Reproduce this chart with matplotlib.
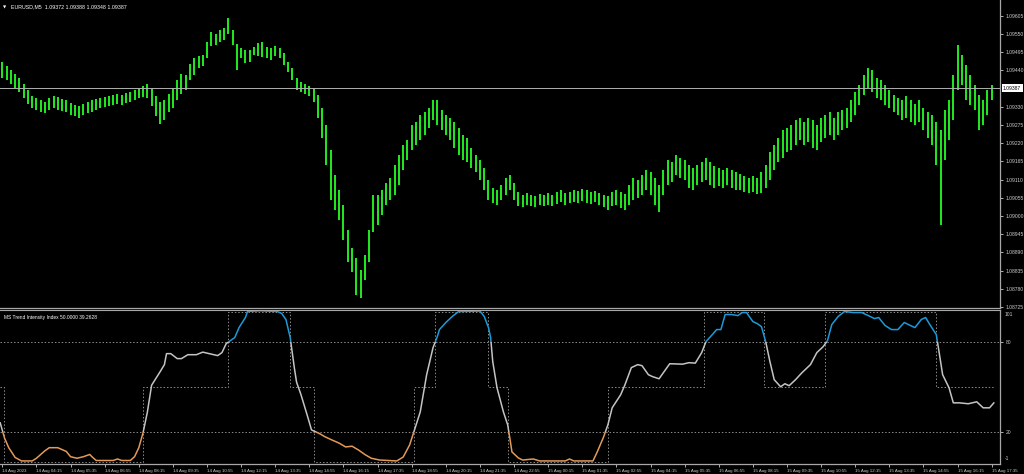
import matplotlib.pyplot as plt
from matplotlib.patches import Rectangle

# ---- data (bar index = 5 minute bars from 14 Aug 02:55, every 2nd bar) ----
bar_index = list(range(0, 465, 2))
highs = [1.09466, 1.09453, 1.09441, 1.09429, 1.09417, 1.09399, 1.09381, 1.09363, 1.09357, 1.09351,
         1.09345, 1.09357, 1.09363, 1.09360, 1.09354, 1.09351, 1.09342, 1.09335, 1.09332, 1.09339,
         1.09345, 1.09351, 1.09354, 1.09357, 1.09360, 1.09363, 1.09366, 1.09369, 1.09366, 1.09372,
         1.09375, 1.09381, 1.09387, 1.09393, 1.09399, 1.09387, 1.09363, 1.09345, 1.09351, 1.09369,
         1.09387, 1.09411, 1.09429, 1.09426, 1.09459, 1.09478, 1.09484, 1.09487, 1.09526, 1.09556,
         1.09550, 1.09562, 1.09568, 1.09599, 1.09562, 1.09520, 1.09508, 1.09502, 1.09502, 1.09511,
         1.09523, 1.09526, 1.09511, 1.09508, 1.09514, 1.09508, 1.09493, 1.09466, 1.09447, 1.09417,
         1.09405, 1.09399, 1.09393, 1.09387, 1.09366, 1.09326, 1.09275, 1.09199, 1.09124, 1.09078,
         1.09033, 1.08957, 1.08903, 1.08873, 1.08837, 1.08882, 1.08957, 1.09063, 1.09063, 1.09078,
         1.09100, 1.09115, 1.09154, 1.09184, 1.09215, 1.09230, 1.09275, 1.09284, 1.09305, 1.09314,
         1.09326, 1.09351, 1.09351, 1.09320, 1.09305, 1.09296, 1.09284, 1.09266, 1.09245, 1.09236,
         1.09205, 1.09184, 1.09169, 1.09145, 1.09109, 1.09084, 1.09078, 1.09094, 1.09115, 1.09124,
         1.09100, 1.09072, 1.09063, 1.09069, 1.09063, 1.09060, 1.09066, 1.09063, 1.09069, 1.09063,
         1.09072, 1.09078, 1.09069, 1.09072, 1.09078, 1.09075, 1.09081, 1.09078, 1.09072, 1.09075,
         1.09069, 1.09063, 1.09060, 1.09072, 1.09078, 1.09072, 1.09066, 1.09094, 1.09115, 1.09109,
         1.09124, 1.09139, 1.09133, 1.09115, 1.09094, 1.09139, 1.09169, 1.09163, 1.09184, 1.09175,
         1.09169, 1.09154, 1.09145, 1.09154, 1.09163, 1.09175, 1.09163, 1.09151, 1.09145, 1.09139,
         1.09145, 1.09139, 1.09133, 1.09127, 1.09121, 1.09115, 1.09121, 1.09115, 1.09133, 1.09154,
         1.09193, 1.09215, 1.09236, 1.09260, 1.09266, 1.09275, 1.09290, 1.09296, 1.09284, 1.09296,
         1.09290, 1.09275, 1.09296, 1.09305, 1.09314, 1.09296, 1.09314, 1.09320, 1.09326, 1.09351,
         1.09375, 1.09396, 1.09426, 1.09447, 1.09441, 1.09417, 1.09411, 1.09396, 1.09381, 1.09366,
         1.09357, 1.09351, 1.09363, 1.09351, 1.09339, 1.09351, 1.09326, 1.09314, 1.09305, 1.09284,
         1.09260, 1.09320, 1.09351, 1.09426, 1.09517, 1.09487, 1.09456, 1.09426, 1.09396, 1.09366,
         1.09351, 1.09381, 1.09396]
lows = [1.09417, 1.09411, 1.09399, 1.09387, 1.09375, 1.09357, 1.09339, 1.09326, 1.09320, 1.09314,
        1.09311, 1.09320, 1.09326, 1.09320, 1.09317, 1.09314, 1.09305, 1.09302, 1.09296, 1.09305,
        1.09311, 1.09314, 1.09320, 1.09326, 1.09329, 1.09332, 1.09335, 1.09339, 1.09335, 1.09342,
        1.09345, 1.09351, 1.09357, 1.09360, 1.09357, 1.09332, 1.09302, 1.09278, 1.09290, 1.09314,
        1.09326, 1.09351, 1.09369, 1.09381, 1.09411, 1.09426, 1.09447, 1.09453, 1.09478, 1.09514,
        1.09517, 1.09526, 1.09532, 1.09550, 1.09517, 1.09441, 1.09478, 1.09462, 1.09466, 1.09487,
        1.09484, 1.09481, 1.09478, 1.09472, 1.09484, 1.09478, 1.09456, 1.09435, 1.09411, 1.09381,
        1.09375, 1.09369, 1.09363, 1.09345, 1.09296, 1.09236, 1.09154, 1.09048, 1.09018, 1.08988,
        1.08927, 1.08861, 1.08830, 1.08761, 1.08752, 1.08806, 1.08861, 1.08951, 1.08973, 1.09003,
        1.09033, 1.09048, 1.09063, 1.09094, 1.09139, 1.09169, 1.09199, 1.09215, 1.09230, 1.09245,
        1.09266, 1.09290, 1.09275, 1.09260, 1.09245, 1.09230, 1.09205, 1.09184, 1.09169, 1.09163,
        1.09145, 1.09133, 1.09109, 1.09078, 1.09048, 1.09039, 1.09033, 1.09048, 1.09063, 1.09078,
        1.09048, 1.09030, 1.09027, 1.09033, 1.09030, 1.09027, 1.09033, 1.09030, 1.09033, 1.09030,
        1.09036, 1.09042, 1.09033, 1.09039, 1.09042, 1.09039, 1.09045, 1.09039, 1.09036, 1.09042,
        1.09033, 1.09027, 1.09018, 1.09030, 1.09033, 1.09024, 1.09018, 1.09033, 1.09048, 1.09054,
        1.09063, 1.09078, 1.09063, 1.09033, 1.09012, 1.09063, 1.09094, 1.09103, 1.09124, 1.09115,
        1.09109, 1.09084, 1.09078, 1.09094, 1.09103, 1.09109, 1.09094, 1.09084, 1.09091, 1.09084,
        1.09094, 1.09084, 1.09078, 1.09078, 1.09072, 1.09069, 1.09072, 1.09066, 1.09069, 1.09084,
        1.09109, 1.09139, 1.09163, 1.09175, 1.09193, 1.09199, 1.09215, 1.09230, 1.09215, 1.09224,
        1.09205, 1.09199, 1.09224, 1.09236, 1.09245, 1.09230, 1.09245, 1.09260, 1.09266, 1.09284,
        1.09305, 1.09335, 1.09366, 1.09387, 1.09375, 1.09357, 1.09351, 1.09335, 1.09326, 1.09314,
        1.09305, 1.09290, 1.09296, 1.09284, 1.09275, 1.09284, 1.09260, 1.09236, 1.09215, 1.09154,
        1.08973, 1.09169, 1.09230, 1.09290, 1.09381, 1.09396, 1.09351, 1.09335, 1.09320, 1.09260,
        1.09275, 1.09305, 1.09351]
last_price = 1.09387

price_ticks = [1.09605, 1.09550, 1.09495, 1.09440, 1.09330, 1.09275, 1.09220, 1.09165,
               1.09110, 1.09055, 1.09000, 1.08945, 1.08890, 1.08835, 1.08780, 1.08725]

time_ticks = list(range(0, 465, 16))
time_labels = ['14 Aug 2023', '14 Aug 04:15', '14 Aug 05:35', '14 Aug 06:55', '14 Aug 08:15',
               '14 Aug 09:35', '14 Aug 10:55', '14 Aug 12:15', '14 Aug 13:35', '14 Aug 14:55',
               '14 Aug 16:15', '14 Aug 17:35', '14 Aug 18:55', '14 Aug 20:15', '14 Aug 21:35',
               '14 Aug 22:55', '15 Aug 00:15', '15 Aug 01:35', '15 Aug 02:55', '15 Aug 04:15',
               '15 Aug 05:35', '15 Aug 06:55', '15 Aug 08:15', '15 Aug 09:35', '15 Aug 10:55',
               '15 Aug 12:15', '15 Aug 13:35', '15 Aug 14:55', '15 Aug 16:15', '15 Aug 17:35']

# Trend Intensity Index line
tii_bars = [-1, 1, 3, 6, 9, 14, 16, 20, 22, 26, 30, 32, 35, 38, 41, 42, 44, 52, 54, 56,
            60, 62, 64, 66, 68, 70, 74, 76, 77, 79, 82, 84, 87, 91, 94, 97, 101, 103, 105, 107,
            109, 111, 114, 115, 121, 129, 131, 133, 135, 137, 138, 140, 143, 145, 147, 149, 151, 154, 158, 161,
            164, 167, 170, 173, 177, 185, 188, 191, 193, 196, 199, 202, 204, 205, 208, 211, 214, 224, 226, 228,
            229, 230, 232, 235, 237, 238, 239, 242, 244, 249, 252, 264, 266, 268, 277, 279, 282, 284, 286, 290,
            292, 295, 298, 300, 303, 305, 308, 311, 313, 319, 322, 325, 328, 330, 333, 335, 337, 339, 342, 345,
            347, 349, 352, 354, 356, 358, 360, 362, 365, 367, 369, 372, 375, 379, 382, 385, 387, 389, 392, 395,
            399, 403, 407, 409, 411, 414, 417, 420, 423, 425, 428, 431, 433, 435, 438, 439, 441, 444, 446, 449,
            453, 457, 460, 463, 465]
tii_values = [26, 16, 9.5, 3, 0.7, 0.7, 2.5, 7.5, 9.5, 9.5, 7, 3.5, 2.5, 3.5, 5, 3.5, 1, 1, 2, 1,
              1, 3.5, 9.5, 19.5, 33, 51, 60, 64.7, 72, 72, 68.7, 68.7, 71.3, 71.3, 73, 72, 70.7, 72.7, 78.7, 80.7,
              82.7, 89.3, 96, 100, 100.5, 100, 98.7, 94.7, 82.7, 62, 53, 45, 31, 21.3, 20, 18.7, 17, 15, 12.5, 10,
              10.5, 8, 5, 2.5, 1.3, 0.7, 3.3, 11.3, 20, 33.3, 58, 76, 83.3, 88, 92.7, 96.7, 100, 100.3, 96.7, 89.3,
              82.7, 66.7, 49.3, 33.3, 24.7, 16, 6.7, 2.7, 1.3, 2, 0.7, 0.7, 2, 0.7, 0.7, 6.7, 16.7, 24.7, 36, 44.7,
              51.3, 62.7, 64.7, 64, 58, 56.7, 55.3, 61.3, 65.3, 65, 66, 65.7, 72.7, 80, 84.7, 88, 88, 98, 98, 97.3,
              99.3, 99.3, 93.3, 92, 90, 80, 66.7, 54.7, 50, 52, 50.7, 54.7, 59.3, 64.7, 72.7, 76.7, 80.7, 91.3, 96.7, 100,
              99.3, 99.3, 96.7, 95.3, 96, 90.7, 88, 88, 92.7, 91.3, 89.3, 94.7, 96, 91.3, 84.7, 76, 58, 49.3, 39.3, 39.3,
              38.7, 40, 36, 36, 39.26]

# trend state (dotted step line): value holds from each edge to the next
state_edges = [-1, 1, 66, 106, 135, 146, 193, 203, 228, 237, 284, 329, 357, 386, 438]
state_values = [50, 0, 50, 100, 50, 0, 50, 100, 50, 0, 50, 100, 50, 100, 50]
state_end = 465

W, H = 1024, 474
FG = '#cccccc'
BAR_GREEN = '#22f522'
ORANGE = '#e39a58'
BLUE = '#1c9ad8'
SILVER = '#c4c4c4'
XLIM = (-1.1, 467.9)
plt.rcParams['font.family'] = ['Liberation Sans', 'DejaVu Sans']

fig = plt.figure(figsize=(W / 100, H / 100), dpi=100, facecolor='black')


def px_axes(x0, y0, x1, y1):
    return fig.add_axes([x0 / W, 1 - y1 / H, (x1 - x0) / W, (y1 - y0) / H])


def style_axes(a):
    a.set_facecolor('black')
    for s in ('top', 'left'):
        a.spines[s].set_visible(False)
    for s in ('right', 'bottom'):
        a.spines[s].set_color('#a8a8a8')
        a.spines[s].set_linewidth(0.9)
    a.yaxis.tick_right()
    a.tick_params(axis='both', colors=FG, labelsize=3.6, length=2.5, width=0.6, pad=1.5)
    a.set_xlim(*XLIM)


# ---- price panel ----
ax = px_axes(0, 0, 1000, 308)
style_axes(ax)
ax.vlines(bar_index, lows, highs, color=BAR_GREEN, lw=1.35)
ax.set_ylim(1.08722, 1.09653)
ax.set_yticks(price_ticks)
ax.set_yticklabels([f'{p:.5f}' for p in price_ticks])
ax.set_xticks([])
ax.axhline(last_price, color='#b0b0b0', lw=0.7)
ax.text(1.003, last_price, f'{last_price:.5f}', transform=ax.get_yaxis_transform(),
        ha='left', va='center', fontsize=3.6, color='black',
        bbox=dict(facecolor='white', edgecolor='none', pad=1.0))
ax.text(0.003, 0.982, '\u25bc', transform=ax.transAxes, color='white', fontsize=3, va='top',
        family='DejaVu Sans')
ax.text(0.011, 0.986, 'EURUSD,M5  1.09372 1.09388 1.09348 1.09387', transform=ax.transAxes,
        color='white', fontsize=3.8, va='top')

# ---- indicator panel ----
ax2 = px_axes(0, 310, 1000, 463.5)
style_axes(ax2)
ax2.spines['top'].set_visible(True)
ax2.spines['top'].set_color('#a8a8a8')
ax2.set_ylim(-1, 101)
ax2.set_yticks([80, 20])
ax2.set_yticklabels(['80', '20'])
ax2.text(1.005, 0.985, '101', transform=ax2.transAxes, ha='left', va='top', fontsize=3.6, color=FG)
ax2.text(1.005, 0.015, '-1', transform=ax2.transAxes, ha='left', va='bottom', fontsize=3.6, color=FG)

for lvl in (80, 20):
    ax2.axhline(lvl, color='#8c8c8c', lw=0.7, ls=(0, (1.5, 2)))

ax2.plot(state_edges + [state_end], state_values + [state_values[-1]], drawstyle='steps-post',
         color='#8c8c8c', lw=0.7, ls=(0, (1.5, 2)))

for lo, hi, col in [(-5, 20, ORANGE), (20, 80, SILVER), (80, 110, BLUE)]:
    line, = ax2.plot(tii_bars, tii_values, color=col, lw=1.1)
    clip = Rectangle((XLIM[0], lo), XLIM[1] - XLIM[0], hi - lo, transform=ax2.transData)
    line.set_clip_path(clip)

ax2.set_xticks(time_ticks)
ax2.set_xticklabels(time_labels, ha='left', fontsize=3.2)
ax2.tick_params(axis='x', pad=1.2)
ax2.text(0.004, 0.965, 'MS Trend Intensity Index 50.0000 39.2628', transform=ax2.transAxes,
         color='white', fontsize=3.5, va='top')

fig.savefig('out.png', dpi=100, facecolor='black')
